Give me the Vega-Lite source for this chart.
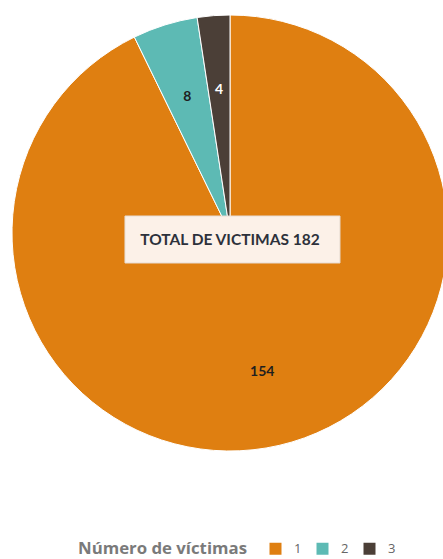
{
  "$schema": "https://vega.github.io/schema/vega-lite/v6.json",
  "width": 460,
  "height": 466,
  "padding": 0,
  "autosize": {"type": "pad"},
  "background": "white",
  "config": {"view": {"stroke": null}, "font": "Lato"},
  "layer": [
    {
      "data": {"values": [
        {"victimas": "1", "n": 154},
        {"victimas": "2", "n": 8},
        {"victimas": "3", "n": 4}
      ]},
      "layer": [
        {
          "mark": {"type": "arc", "outerRadius": 218, "stroke": "white", "strokeWidth": 1},
          "encoding": {
            "theta": {"field": "n", "type": "quantitative", "stack": true},
            "order": {"field": "victimas", "type": "ordinal"},
            "color": {
              "field": "victimas", "type": "nominal",
              "scale": {"domain": ["1", "2", "3"], "range": ["#DF7F11", "#5DBAB4", "#4B3F37"]},
              "legend": {
                "title": "Número de víctimas",
                "orient": "none",
                "legendX": 78,
                "legendY": 542,
                "direction": "horizontal",
                "titleOrient": "left",
                "titleFont": "Open Sans",
                "titleFontSize": 16.8,
                "titleFontWeight": "bold",
                "titleColor": "#7a7a7a",
                "titlePadding": 22,
                "labelFont": "Open Sans",
                "labelFontSize": 13,
                "labelColor": "#666666",
                "labelOffset": 12,
                "columnPadding": 14,
                "symbolType": "square",
                "symbolSize": 144,
                "symbolStrokeWidth": 0
              }
            }
          }
        },
        {
          "mark": {"type": "text", "radius": 143, "fontSize": 14, "fontWeight": "bold", "font": "Lato"},
          "encoding": {
            "theta": {"field": "n", "type": "quantitative", "stack": true},
            "order": {"field": "victimas", "type": "ordinal"},
            "text": {"field": "n", "type": "quantitative"},
            "color": {
              "condition": {"test": "datum.victimas === '3'", "value": "white"},
              "value": "#1f1f1f"
            }
          }
        }
      ]
    },
    {
      "data": {"values": [{"t": "TOTAL DE VICTIMAS 182"}]},
      "layer": [
        {
          "mark": {
            "type": "point",
            "shape": "M-0.977,-0.158H1.023V0.279H-0.977Z",
            "size": 46225,
            "filled": true,
            "fill": "#FCF1E8",
            "stroke": "#E6DDD5",
            "strokeWidth": 1,
            "opacity": 1
          },
          "encoding": {}
        },
        {
          "mark": {"type": "text", "font": "Lato", "fontSize": 15.5, "fontWeight": "bold", "color": "#2d313b", "dx": 0, "dy": 7},
          "encoding": {"text": {"field": "t", "type": "nominal"}}
        }
      ]
    }
  ]
}
